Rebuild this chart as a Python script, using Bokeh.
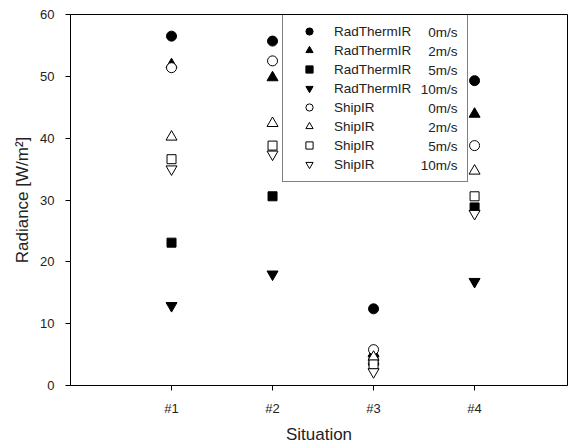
from bokeh.plotting import figure
from bokeh.models import Range1d, FixedTicker, Legend, LegendItem, Label
from bokeh.embed import file_html
from bokeh.resources import INLINE

situations = [1, 2, 3, 4]
tick_labels = {1: "#1", 2: "#2", 3: "#3", 4: "#4"}

rt_0 = [56.5, 55.7, 12.4, 49.3]
rt_2 = [51.9, 49.8, 5.2, 43.9]
rt_5 = [23.1, 30.6, 4.0, 28.8]
rt_10 = [12.9, 18.0, 3.0, 16.8]
ship_0 = [51.4, 52.5, 5.8, 38.8]
ship_2 = [40.2, 42.4, 4.6, 34.7]
ship_5 = [36.6, 38.8, 3.4, 30.6]
ship_10 = [35.0, 37.4, 2.2, 27.8]

series = [
    ("RadThermIR", "0m/s", rt_0, "circle", True, 10),
    ("RadThermIR", "2m/s", rt_2, "triangle", True, 11),
    ("RadThermIR", "5m/s", rt_5, "square", True, 9),
    ("RadThermIR", "10m/s", rt_10, "inverted_triangle", True, 11),
    ("ShipIR", "0m/s", ship_0, "circle", False, 10),
    ("ShipIR", "2m/s", ship_2, "triangle", False, 11),
    ("ShipIR", "5m/s", ship_5, "square", False, 9),
    ("ShipIR", "10m/s", ship_10, "inverted_triangle", False, 11),
]

FONT = "Liberation Sans"

p = figure(frame_width=497, frame_height=371, output_backend="svg", toolbar_location=None,
           x_range=Range1d(0, 4.92), y_range=Range1d(0, 60),
           min_border_left=70, min_border_right=2, min_border_top=14, min_border_bottom=56)
p.xgrid.visible = False
p.ygrid.visible = False
p.outline_line_color = "black"
p.outline_line_width = 1

p.xaxis.ticker = FixedTicker(ticks=situations)
p.xaxis.major_label_overrides = tick_labels
p.yaxis.ticker = FixedTicker(ticks=[0, 10, 20, 30, 40, 50, 60])
for ax in (p.xaxis[0], p.yaxis[0]):
    ax.minor_tick_line_color = None
    ax.major_tick_in = 0
    ax.major_tick_out = 5
    ax.axis_line_color = "black"
    ax.major_tick_line_color = "black"
    ax.major_label_text_font = FONT
    ax.major_label_text_font_size = "13px"
    ax.major_label_text_color = "#222222"
    ax.axis_label_text_font = FONT
    ax.axis_label_text_font_size = "17px"
    ax.axis_label_text_font_style = "normal"
    ax.axis_label_text_color = "#222222"
p.xaxis.axis_label = "Situation"
p.yaxis.axis_label = "Radiance [W/m²]"
p.xaxis.major_label_standoff = 10
p.xaxis.axis_label_standoff = 6
p.yaxis.major_label_standoff = 11
p.yaxis.axis_label_standoff = 5

items = []
for name, speed, vals, marker, filled, size in series:
    r = p.scatter(situations, vals, marker=marker, size=size,
                  fill_color="black" if filled else "white",
                  line_color="black", line_width=1)
    items.append(LegendItem(label=name, renderers=[r]))

legend = Legend(items=items, location=(212, 203), padding=8,
                glyph_width=36, glyph_height=18, label_height=18, label_width=125,
                label_standoff=7, spacing=1,
                label_text_font=FONT, label_text_font_size="13.5px",
                label_text_color="#222222",
                border_line_color="black", border_line_width=1,
                background_fill_alpha=0.0)
p.add_layout(legend, "center")

# speed column of the legend, right aligned
for i, (name, speed, vals, marker, filled, size) in enumerate(series):
    p.add_layout(Label(x=387, y=353 - 19 * i, x_units="screen", y_units="screen",
                       text=speed, text_align="right", text_baseline="middle",
                       text_font=FONT, text_font_size="13.5px", text_color="#222222"))

open("out.html", "w").write(file_html(p, INLINE))
